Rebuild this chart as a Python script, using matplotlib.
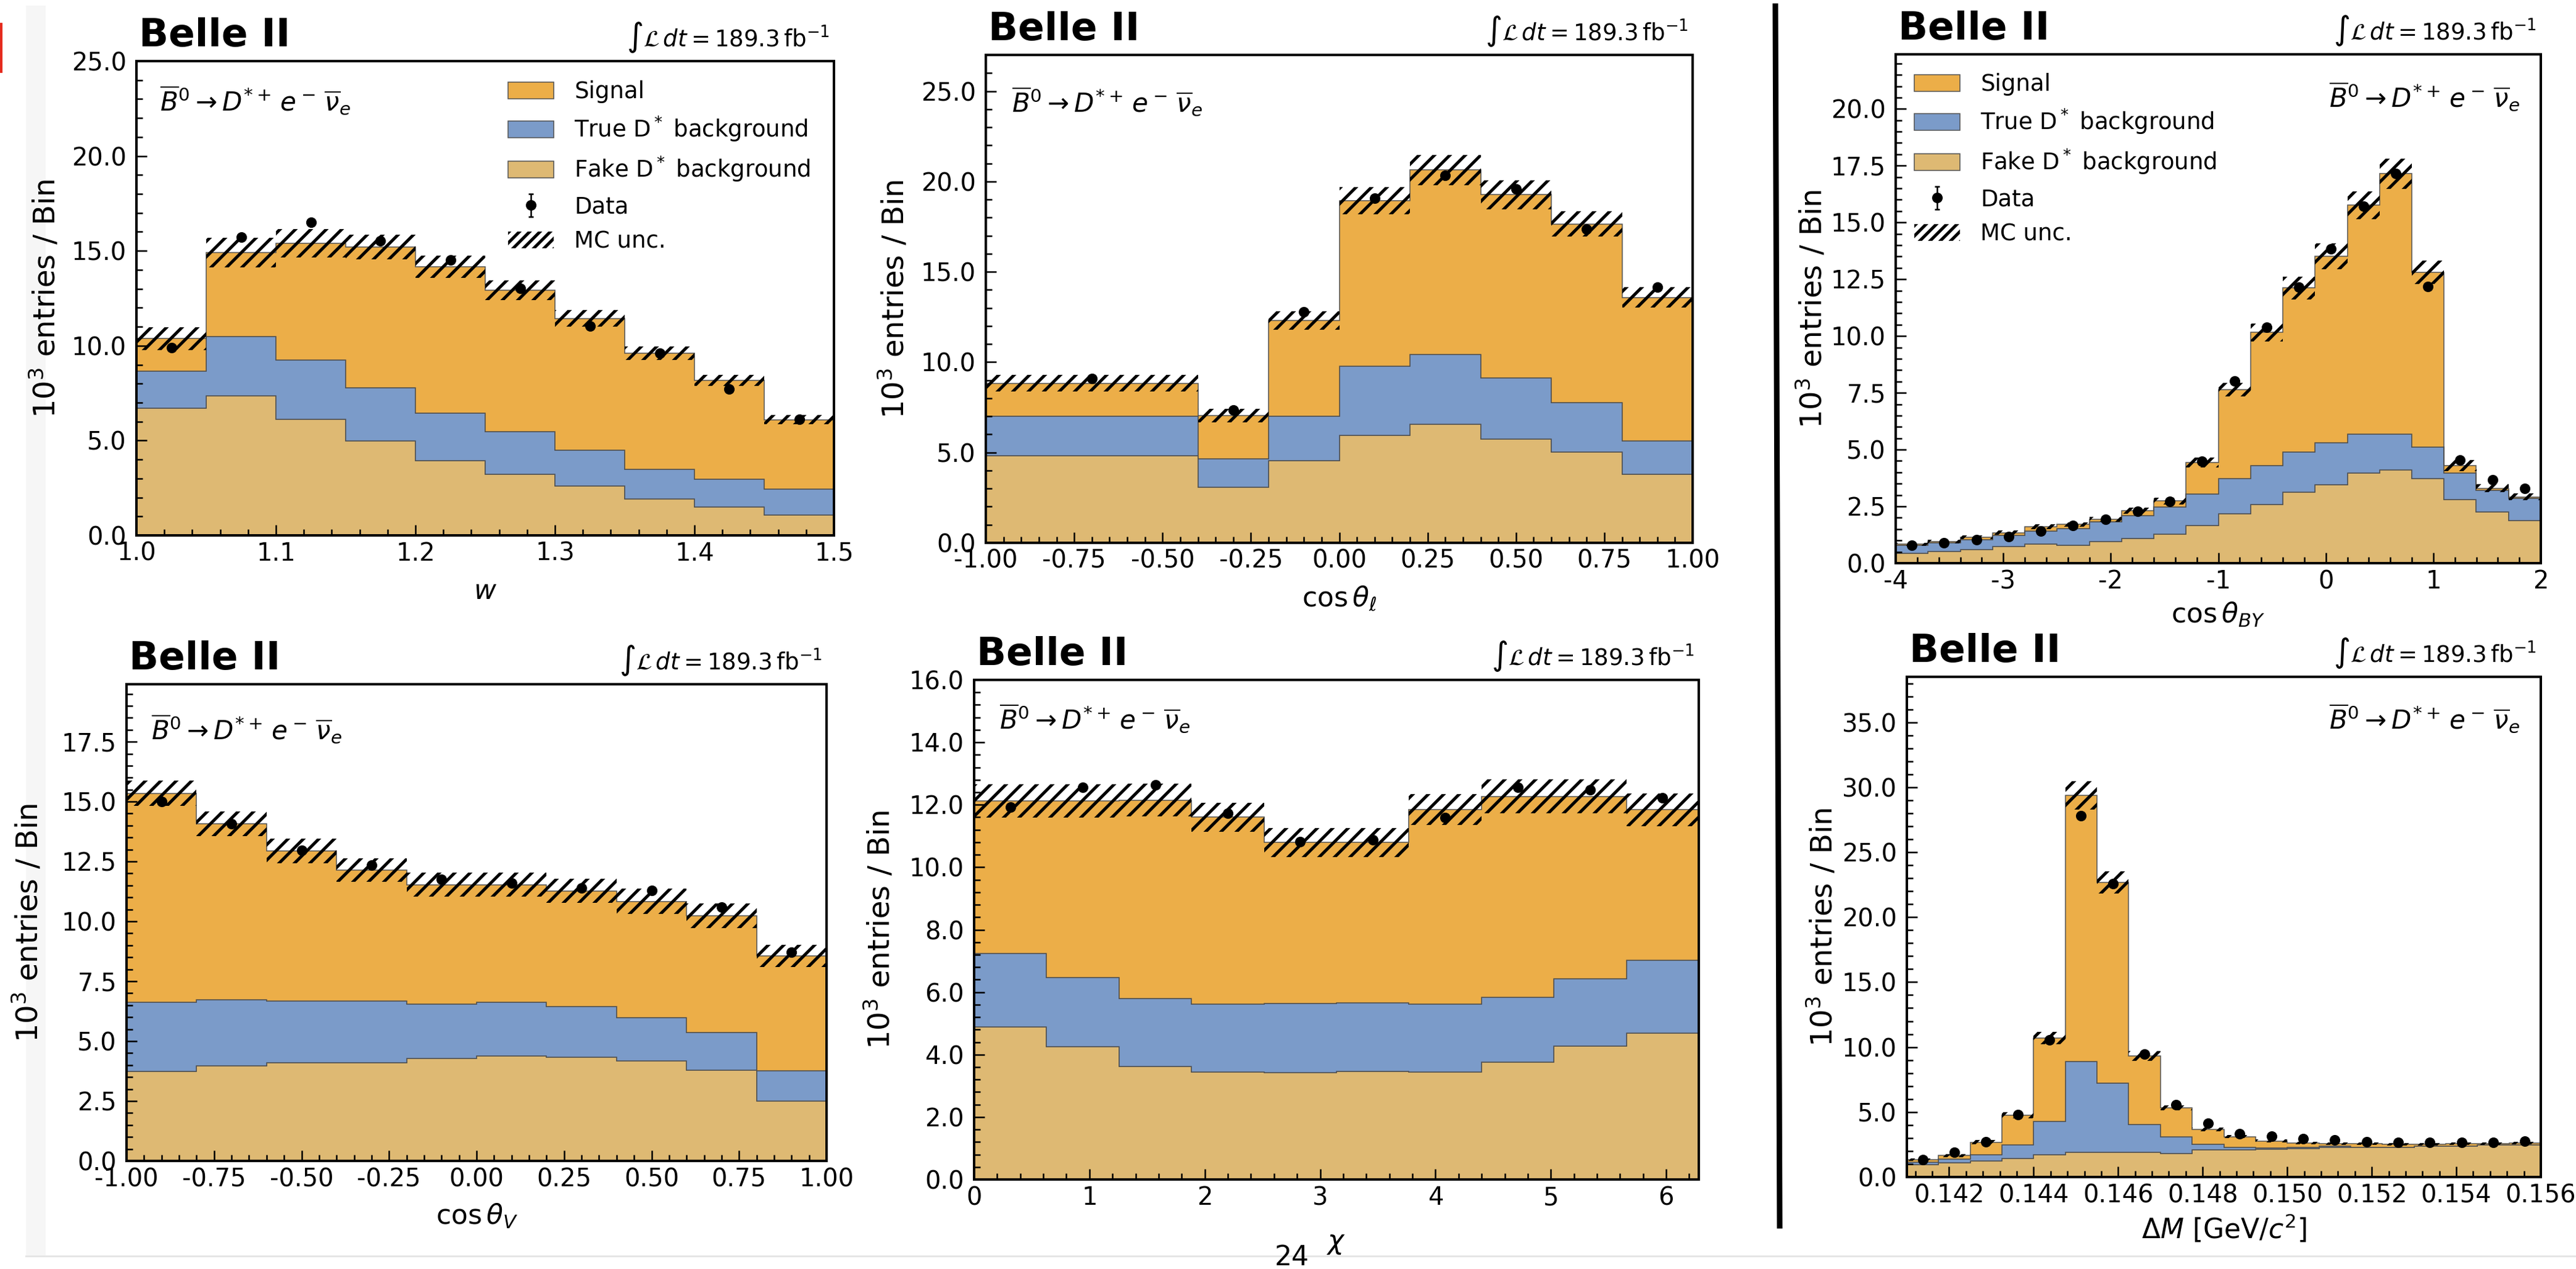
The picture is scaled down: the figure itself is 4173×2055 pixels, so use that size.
import numpy as np
import matplotlib
matplotlib.use("Agg")
import matplotlib.pyplot as plt
from matplotlib.patches import Patch, Rectangle
from matplotlib.lines import Line2D
from matplotlib.ticker import MultipleLocator, FormatStrFormatter

# ---- data (10^3 entries / bin) ----
w_edges = np.linspace(1.0, 1.5, 11)
w_fake = [6.70, 7.37, 6.12, 4.98, 3.94, 3.22, 2.59, 1.91, 1.51, 1.08]
w_true = [1.95, 3.11, 3.11, 2.80, 2.49, 2.24, 1.91, 1.58, 1.44, 1.37]
w_sig = [1.72, 4.42, 6.17, 7.42, 7.72, 7.47, 6.93, 6.11, 5.22, 3.65]
w_unc = [0.60, 0.78, 0.75, 0.64, 0.59, 0.52, 0.44, 0.36, 0.28, 0.24]
w_data = [9.88, 15.73, 16.49, 15.52, 14.52, 13.03, 11.04, 9.60, 7.72, 6.12]

cl_edges = [-1.0, -0.4, -0.2, 0.0, 0.2, 0.4, 0.6, 0.8, 1.0]
cl_fake = [4.83, 3.08, 4.54, 5.96, 6.55, 5.74, 5.04, 3.78]
cl_true = [2.18, 1.57, 2.47, 3.82, 3.89, 3.39, 2.73, 1.85]
cl_sig = [1.81, 2.40, 5.30, 9.15, 10.19, 10.13, 9.87, 7.95]
cl_unc = [0.46, 0.37, 0.52, 0.74, 0.84, 0.79, 0.70, 0.57]
cl_data = [9.08, 7.34, 12.77, 19.06, 20.33, 19.60, 17.36, 14.15]

by_edges = np.linspace(-4.0, 2.0, 21)
by_fake = [0.43, 0.52, 0.61, 0.73, 0.83, 0.78, 0.95, 1.08, 1.27, 1.65,
           2.17, 2.57, 3.13, 3.44, 3.96, 4.11, 3.73, 2.81, 2.26, 1.88]
by_true = [0.35, 0.38, 0.43, 0.49, 0.59, 0.73, 0.87, 1.00, 1.20, 1.39,
           1.56, 1.72, 1.77, 1.86, 1.72, 1.58, 1.39, 1.15, 0.95, 0.98]
by_sig = [0.05, 0.05, 0.09, 0.12, 0.18, 0.19, 0.12, 0.23, 0.27, 1.39,
          3.91, 5.87, 7.22, 8.21, 10.08, 11.45, 7.69, 0.33, 0.09, 0.06]
by_unc = [0.06, 0.07, 0.08, 0.09, 0.10, 0.10, 0.11, 0.13, 0.15, 0.22,
          0.30, 0.39, 0.50, 0.58, 0.61, 0.67, 0.52, 0.24, 0.18, 0.16]
by_data = [0.78, 0.90, 1.04, 1.18, 1.42, 1.65, 1.94, 2.29, 2.73, 4.48,
           8.02, 10.38, 12.15, 13.85, 15.71, 17.14, 12.19, 4.55, 3.68, 3.30]

cv_edges = np.linspace(-1.0, 1.0, 11)
cv_fake = [3.74, 3.97, 4.11, 4.11, 4.27, 4.37, 4.32, 4.18, 3.80, 2.51]
cv_true = [2.89, 2.75, 2.56, 2.56, 2.28, 2.25, 2.12, 1.79, 1.56, 1.25]
cv_sig = [8.71, 7.35, 6.27, 5.47, 4.98, 4.91, 4.83, 4.86, 4.88, 4.79]
cv_unc = [0.53, 0.52, 0.52, 0.50, 0.50, 0.50, 0.50, 0.53, 0.52, 0.46]
cv_data = [14.99, 14.07, 12.97, 12.36, 11.75, 11.60, 11.39, 11.29, 10.59, 8.71]

chi_edges = np.linspace(0.0, 2 * np.pi, 11)
chi_fake = [4.88, 4.25, 3.61, 3.44, 3.42, 3.47, 3.44, 3.75, 4.28, 4.69]
chi_true = [2.36, 2.21, 2.18, 2.18, 2.21, 2.19, 2.18, 2.08, 2.15, 2.33]
chi_sig = [4.88, 5.66, 6.36, 5.98, 5.16, 5.13, 6.23, 6.44, 5.84, 4.82]
chi_unc = [0.54, 0.54, 0.52, 0.47, 0.47, 0.47, 0.49, 0.54, 0.54, 0.52]
chi_data = [11.92, 12.56, 12.63, 11.72, 10.82, 10.88, 11.58, 12.56, 12.47, 12.23]

dm_edges = np.linspace(0.141, 0.156, 21)
dm_fake = [0.93, 1.08, 1.24, 1.44, 1.72, 1.88, 1.91, 1.91, 1.82, 2.07,
           2.07, 2.14, 2.20, 2.30, 2.30, 2.30, 2.36, 2.39, 2.46, 2.46]
dm_true = [0.19, 0.32, 0.48, 1.02, 2.56, 7.02, 5.33, 2.14, 1.28, 0.45,
           0.23, 0.09, 0.10, 0.06, 0.00, 0.00, 0.00, 0.00, 0.00, 0.00]
dm_sig = [0.22, 0.26, 0.96, 2.29, 6.41, 20.49, 15.45, 5.27, 2.23, 1.12,
          0.80, 0.55, 0.32, 0.19, 0.25, 0.22, 0.16, 0.16, 0.12, 0.16]
dm_unc = [0.10, 0.12, 0.15, 0.25, 0.48, 1.10, 0.85, 0.37, 0.20, 0.14,
          0.12, 0.10, 0.10, 0.10, 0.10, 0.10, 0.10, 0.10, 0.10, 0.10]
dm_data = [1.34, 1.91, 2.71, 4.79, 10.53, 27.82, 22.56, 9.48, 5.58, 4.12,
           3.32, 3.16, 2.97, 2.84, 2.71, 2.65, 2.65, 2.68, 2.68, 2.74]

# ---- style ----
W, H, DPI = 4173, 2055, 150


def pt(px):
    return px * 72.0 / DPI


C_SIG = "#ECAE48"
C_TRUE = "#7B9BC9"
C_FAKE = "#DEB973"
EDGE = "#505050"
DECAY = r"$\overline{B}^0 \rightarrow D^{*+}\,e^-\,\overline{\nu}_e$"
LUMI = r"$\int\mathcal{L}\,dt = 189.3\,\mathrm{fb}^{-1}$"

plt.rcParams["hatch.linewidth"] = pt(5)
plt.rcParams["font.family"] = ["DejaVu Sans"]

fig = plt.figure(figsize=(W / DPI, H / DPI), dpi=DPI)


def axes_px(left, right, top, bottom):
    return fig.add_axes([left / W, 1 - bottom / H, (right - left) / W, (bottom - top) / H])


def draw(ax, edges, fake, true, sig, unc, data):
    edges = np.asarray(edges, dtype=float)
    fake = np.asarray(fake)
    lvl1 = fake + np.asarray(true)
    tot = lvl1 + np.asarray(sig)
    unc = np.asarray(unc)
    data = np.asarray(data)
    lw = pt(1.5)
    ax.stairs(fake, edges, baseline=0, fill=True, facecolor=C_FAKE, edgecolor=EDGE, linewidth=lw)
    ax.stairs(lvl1, edges, baseline=fake, fill=True, facecolor=C_TRUE, edgecolor=EDGE, linewidth=lw)
    ax.stairs(tot, edges, baseline=lvl1, fill=True, facecolor=C_SIG, edgecolor=EDGE, linewidth=lw)
    centers = 0.5 * (edges[1:] + edges[:-1])
    ax.bar(centers, 2 * unc, width=np.diff(edges), bottom=tot - unc, fill=False,
           hatch="//", edgecolor="k", linewidth=0)
    err = ax.errorbar(centers, data, yerr=np.sqrt(data * 1000) / 1000, fmt="o", color="k",
                      ms=pt(15), elinewidth=pt(2.5), capsize=pt(4), capthick=pt(2.5), zorder=5)
    return err


def style(ax, xlim, ylim, xmaj, xmin, xfmt, ymaj, ymin, xlabel, xlab_off, ylab_off):
    ax.set_xlim(*xlim)
    ax.set_ylim(*ylim)
    ax.xaxis.set_major_locator(MultipleLocator(xmaj))
    ax.xaxis.set_minor_locator(MultipleLocator(xmin))
    ax.yaxis.set_major_locator(MultipleLocator(ymaj))
    ax.yaxis.set_minor_locator(MultipleLocator(ymin))
    ax.xaxis.set_major_formatter(FormatStrFormatter(xfmt))
    ax.yaxis.set_major_formatter(FormatStrFormatter("%.1f"))
    ax.tick_params(which="both", direction="in", top=False, right=False,
                   labelsize=pt(40), width=pt(2.5))
    ax.tick_params(which="major", length=pt(17))
    ax.tick_params(which="minor", length=pt(10))
    ax.tick_params(axis="y", pad=pt(16))
    ax.tick_params(axis="x", pad=pt(10))
    for s in ax.spines.values():
        s.set_linewidth(pt(4))
    bb = ax.get_position()
    wpx, hpx = bb.width * W, bb.height * H
    ax.set_xlabel(xlabel, fontsize=pt(44))
    ax.xaxis.label.set_verticalalignment("center")
    ax.xaxis.set_label_coords(0.5, -xlab_off / hpx)
    ax.set_ylabel(r"$10^3$ entries / Bin", fontsize=pt(48))
    ax.yaxis.label.set_verticalalignment("center")
    ax.yaxis.set_label_coords(-ylab_off / wpx, 0.5)
    ax.annotate("Belle II", xy=(0, 1), xycoords="axes fraction", xytext=(pt(4), pt(24)),
                textcoords="offset points", fontsize=pt(63), fontweight="bold", va="baseline")
    ax.annotate(LUMI, xy=(1, 1), xycoords="axes fraction", xytext=(-pt(7), pt(24)),
                textcoords="offset points", fontsize=pt(37), ha="right", va="baseline")


def decay(ax, right, dx, dy):
    if right:
        ax.annotate(DECAY, xy=(1, 1), xycoords="axes fraction", xytext=(-pt(dx), -pt(dy)),
                    textcoords="offset points", fontsize=pt(42), ha="right", va="top")
    else:
        ax.annotate(DECAY, xy=(0, 1), xycoords="axes fraction", xytext=(pt(dx), -pt(dy)),
                    textcoords="offset points", fontsize=pt(42), ha="left", va="top")


def legend(ax, err, x, y):
    handles = [
        Patch(facecolor=C_SIG, edgecolor=EDGE, linewidth=pt(1.5)),
        Patch(facecolor=C_TRUE, edgecolor=EDGE, linewidth=pt(1.5)),
        Patch(facecolor=C_FAKE, edgecolor=EDGE, linewidth=pt(1.5)),
        err,
        Patch(facecolor="none", edgecolor="k", hatch="///", linewidth=0),
    ]
    labels = ["Signal", r"True D$^*$ background", r"Fake D$^*$ background", "Data", "MC unc."]
    ax.legend(handles, labels, loc="upper left", bbox_to_anchor=(x, y), frameon=False,
              fontsize=pt(37), handlelength=2.0, handleheight=0.75, handletextpad=0.9,
              labelspacing=0.5, borderpad=0, borderaxespad=0)


# panel 1: w
ax1 = axes_px(221, 1351, 99, 867)
e1 = draw(ax1, w_edges, w_fake, w_true, w_sig, w_unc, w_data)
style(ax1, (1.0, 1.5), (0, 25), 0.1, 0.02, "%.1f", 5, 1, r"$w$", 90, 147)
decay(ax1, False, 38, 38)
legend(ax1, e1, (823 - 221) / 1130, 1 - (130 - 99) / 768)

# panel 2: cos theta_l
ax2 = axes_px(1597, 2742, 89, 879)
draw(ax2, cl_edges, cl_fake, cl_true, cl_sig, cl_unc, cl_data)
style(ax2, (-1.0, 1.0), (0, 27), 0.25, 0.05, "%.2f", 5, 1, r"$\cos\theta_\ell$", 90, 148)
decay(ax2, False, 42, 50)

# panel 3: cos theta_BY
ax3 = axes_px(3071, 4116, 88, 912)
e3 = draw(ax3, by_edges, by_fake, by_true, by_sig, by_unc, by_data)
style(ax3, (-4, 2), (0, 22.4), 1, 0.2, "%d", 2.5, 0.5, r"$\cos\theta_{BY}$", 83, 135)
decay(ax3, True, 34, 43)
legend(ax3, e3, (3101 - 3071) / 1045, 1 - (118 - 88) / 824)

# panel 4: cos theta_V
ax4 = axes_px(205, 1339, 1108, 1880)
draw(ax4, cv_edges, cv_fake, cv_true, cv_sig, cv_unc, cv_data)
style(ax4, (-1.0, 1.0), (0, 19.9), 0.25, 0.05, "%.2f", 2.5, 0.5, r"$\cos\theta_V$", 89, 159)
decay(ax4, False, 40, 47)

# panel 5: chi
ax5 = axes_px(1578, 2752, 1101, 1910)
draw(ax5, chi_edges, chi_fake, chi_true, chi_sig, chi_unc, chi_data)
style(ax5, (0, 2 * np.pi), (0, 16), 1, 0.2, "%d", 2, 0.4, r"$\chi$", 103, 152)
decay(ax5, False, 41, 37)

# panel 6: Delta M
ax6 = axes_px(3089, 4116, 1096, 1906)
draw(ax6, dm_edges, dm_fake, dm_true, dm_sig, dm_unc, dm_data)
style(ax6, (0.141, 0.156), (0, 38.5), 0.002, 0.0004, "%.3f", 5, 1,
      r"$\Delta M$ [GeV/$c^2$]", 83, 136)
decay(ax6, True, 34, 42)

# page decorations
fig.patches.append(Rectangle((42 / W, 1 - 2033 / H), 32 / W, 2024 / H, transform=fig.transFigure,
                             facecolor="#f6f6f6", edgecolor="none", zorder=-5))
fig.patches.append(Rectangle((0, 1 - 118 / H), 4 / W, 81 / H, transform=fig.transFigure,
                             facecolor="#e52b1e", edgecolor="none"))
fig.lines.append(Line2D([42 / W, 1], [1 - 2034 / H, 1 - 2034 / H], transform=fig.transFigure,
                        color="#e6e6e6", linewidth=pt(3)))
fig.lines.append(Line2D([2876 / W, 2883 / W], [1 - 10 / H, 1 - 1985 / H], transform=fig.transFigure,
                        color="k", linewidth=pt(9)))
fig.text(2093 / W, 1 - 2015 / H, "24", ha="center", va="top", fontsize=pt(44))

fig.savefig("out.png", dpi=DPI)
